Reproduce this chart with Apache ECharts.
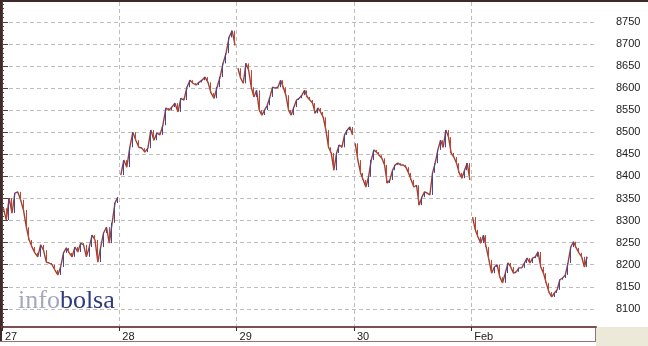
<!DOCTYPE html>
<html>
<head>
<meta charset="utf-8">
<script src="https://cdn.jsdelivr.net/npm/echarts@6/dist/echarts.min.js"></script>
<style>
html,body{margin:0;padding:0;background:#ffffff;}
#chart{width:648px;height:346px;}
</style>
</head>
<body>
<div id="chart"></div>
<script>
// Day labels on the x axis
const dayLabels = ['27', '28', '29', '30', 'Feb'];
const dayTicks = [0, 1, 2, 3, 4];
// Y tick labels
const yTicks = [8100, 8150, 8200, 8250, 8300, 8350, 8400, 8450, 8500, 8550, 8600, 8650, 8700, 8750];

// Intraday prices (one array per session)
const day27 = [8328, 8301, 8351, 8317, 8362, 8365, 8347, 8324, 8285, 8256, 8240, 8227, 8218, 8245, 8233, 8206, 8204, 8200, 8188, 8177, 8195, 8227, 8238, 8227, 8218, 8240, 8229, 8249, 8245, 8218, 8240, 8267, 8256, 8206, 8240, 8272, 8285, 8249, 8295, 8340, 8353];
const day28 = [8403, 8437, 8421, 8466, 8500, 8482, 8466, 8464, 8455, 8464, 8505, 8482, 8498, 8494, 8516, 8555, 8550, 8557, 8566, 8546, 8577, 8573, 8602, 8618, 8611, 8607, 8613, 8618, 8625, 8613, 8589, 8577, 8602, 8625, 8656, 8679, 8715, 8730, 8697];
const day29 = [8645, 8623, 8611, 8656, 8641, 8602, 8580, 8595, 8550, 8539, 8550, 8561, 8580, 8602, 8600, 8602, 8618, 8602, 8584, 8550, 8539, 8557, 8573, 8577, 8584, 8595, 8580, 8573, 8566, 8543, 8555, 8546, 8534, 8505, 8466, 8453, 8414, 8453, 8471, 8466, 8494, 8505, 8512, 8494];
const day30 = [8475, 8437, 8408, 8392, 8376, 8399, 8437, 8460, 8455, 8448, 8441, 8426, 8385, 8392, 8414, 8426, 8430, 8426, 8426, 8421, 8408, 8392, 8376, 8380, 8335, 8353, 8365, 8362, 8358, 8408, 8430, 8460, 8482, 8466, 8505, 8489, 8453, 8444, 8430, 8408, 8396, 8414, 8430, 8392];
const dayFeb = [8308, 8279, 8263, 8249, 8267, 8240, 8211, 8181, 8195, 8200, 8172, 8159, 8181, 8204, 8195, 8181, 8184, 8193, 8193, 8204, 8215, 8204, 8215, 8218, 8229, 8195, 8181, 8159, 8138, 8127, 8136, 8143, 8166, 8170, 8177, 8204, 8240, 8252, 8238, 8227, 8218, 8195, 8218];

const sessions = [day27, day28, day29, day30, dayFeb];

// Build OHLC-style bars (open = previous close within the session) and a connecting path
const bars = [];
const path = [];
sessions.forEach(function (vals, d) {
  vals.forEach(function (c, i) {
    const o = i === 0 ? c : vals[i - 1];
    const x = d + (i + 0.5) / vals.length;
    bars.push([x, o, c, Math.min(o, c), Math.max(o, c)]);
    path.push([x, c]);
  });
  path.push([d + 1, null]);
});

const chart = echarts.init(document.getElementById('chart'), null, {renderer: 'canvas'});
const frame = '#5a3c3c';
chart.setOption({
  animation: false,
  backgroundColor: '#ffffff',
  grid: {left: 2, top: 2, right: 52, bottom: 19, containLabel: false},
  xAxis: {
    type: 'value',
    min: 0,
    max: 5.064,
    interval: 1,
    axisLine: {show: true, onZero: false, lineStyle: {color: '#7a5050', width: 2}},
    axisTick: {show: true, length: 4, inside: false, customValues: dayTicks, lineStyle: {color: '#3a2a2a'}},
    axisLabel: {
      show: true,
      customValues: dayTicks,
      color: '#222',
      fontSize: 11,
      fontFamily: 'Liberation Sans, Arial, sans-serif',
      align: 'left',
      margin: 4,
      padding: [0, 0, 0, 3],
      formatter: function (v) { const k = Math.round(v); return dayLabels[k] || ''; }
    },
    splitLine: {show: true, lineStyle: {color: '#bdbdbd', type: [4, 3], width: 1}}
  },
  yAxis: {
    type: 'value',
    position: 'right',
    min: 8059,
    max: 8795,
    scale: true,
    axisLine: {show: true, lineStyle: {color: frame, width: 1}},
    axisTick: {show: true, length: 6, customValues: yTicks, lineStyle: {color: frame}},
    minorTick: {show: true, splitNumber: 10, length: 2, lineStyle: {color: frame}},
    axisLabel: {
      show: true,
      customValues: yTicks,
      color: '#222',
      fontSize: 11,
      fontFamily: 'Liberation Sans, Arial, sans-serif',
      margin: 20,
      formatter: function (v) { return String(Math.round(v)); }
    },
    splitLine: {show: true, lineStyle: {color: '#bdbdbd', type: [4, 3], width: 1}}
  },
  graphic: [
    {type: 'rect', right: 0, bottom: 0, z: -1, shape: {width: 52, height: 19}, style: {fill: '#ece9d8'}},
    {type: 'rect', left: 0, top: 0, shape: {width: 648, height: 2}, style: {fill: '#3d2b2b'}},
    {type: 'rect', left: 0, top: 0, shape: {width: 2, height: 342}, style: {fill: '#3d2b2b'}},
    {type: 'rect', left: 0, top: 341, shape: {width: 596, height: 1}, style: {fill: '#9a7070'}},
    {type: 'rect', left: 595, top: 327, shape: {width: 1, height: 15}, style: {fill: '#9a7070'}},
    {
      type: 'text', left: 18, top: 288, z: 10,
      style: {
        text: '{a|info}{b|bolsa}',
        rich: {
          a: {fill: '#a3a8bf', fontSize: 26, fontFamily: 'Liberation Serif, serif'},
          b: {fill: '#2e3b7c', fontSize: 26, fontFamily: 'Liberation Serif, serif'}
        }
      }
    }
  ],
  series: [{
    type: 'line',
    data: path,
    showSymbol: false,
    connectNulls: false,
    lineStyle: {color: '#9a4038', width: 1.4},
    z: 2
  }, {
    type: 'candlestick',
    encode: {x: 0, y: [1, 2, 3, 4]},
    barWidth: 1,
    z: 3,
    itemStyle: {
      color: '#45479a',
      color0: '#c2472a',
      borderColor: '#45479a',
      borderColor0: '#c2472a',
      borderWidth: 1
    },
    data: bars
  }]
});
</script>
</body>
</html>
